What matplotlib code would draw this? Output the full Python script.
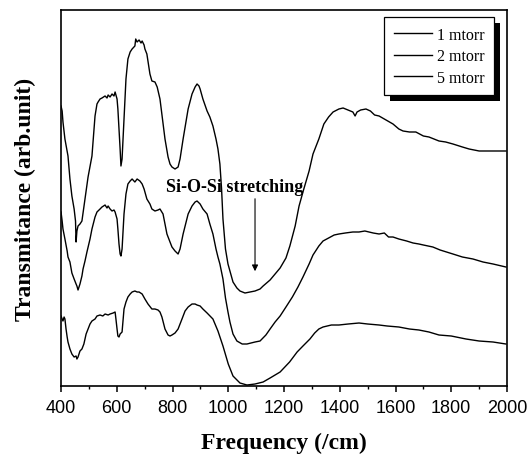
import matplotlib
matplotlib.use("Agg")
import matplotlib.pyplot as plt
from matplotlib.patches import Rectangle
from matplotlib.ticker import MultipleLocator

# wavenumber (/cm) and transmittance (arb. unit)
freq_1 = [400, 404, 407, 414, 422, 425, 432, 439, 447, 452, 454, 457, 461, 468, 475, 486, 497, 511,
          522, 529, 533, 540, 547, 558, 565, 569, 576, 583, 590, 594, 601, 604, 608, 612, 615, 619,
          626, 633, 640, 648, 655, 665, 668, 673, 680, 687, 691, 698, 701, 708, 719, 726, 737, 745,
          755, 766, 773, 784, 791, 798, 809, 820, 827, 838, 856, 870, 881, 888, 895, 899, 909, 924,
          934, 945, 956, 963, 970, 976, 981, 990, 999, 1006, 1017, 1031, 1042, 1060, 1078, 1096,
          1114, 1125, 1150, 1168, 1186, 1207, 1221, 1240, 1254, 1270, 1290, 1304, 1325, 1343, 1360,
          1376, 1397, 1412, 1430, 1447, 1455, 1462, 1475, 1494, 1510, 1525, 1541, 1560, 1591, 1612,
          1627, 1650, 1673, 1700, 1720, 1756, 1780, 1806, 1840, 1864, 1900, 1950, 1996]
trans_1 = [280, 275, 264, 247, 235, 230, 207, 190, 177, 165, 144, 155, 160, 162, 165, 187, 209, 230,
           270, 282, 284, 287, 288, 290, 288, 291, 289, 292, 290, 294, 287, 277, 257, 237, 220, 227,
           267, 307, 327, 334, 337, 340, 347, 344, 346, 343, 345, 341, 337, 332, 312, 305, 304, 299,
           287, 262, 247, 229, 222, 219, 217, 219, 227, 247, 277, 292, 299, 302, 300, 297, 287, 275,
           269, 260, 247, 237, 222, 197, 167, 137, 122, 115, 104, 98, 95, 93, 94, 95,
           97, 100, 106, 112, 118, 128, 140, 160, 180, 196, 215, 232, 247, 262, 269,
           274, 277, 278, 276, 274, 270, 274, 276, 277, 275, 271, 270, 267, 262, 257,
           255, 254, 254, 250, 249, 245, 244, 242, 239, 237, 235, 235, 235]

freq_2 = [400, 404, 407, 414, 422, 425, 432, 439, 443, 447, 454, 457, 461, 468, 475, 479, 486, 493,
          504, 511, 522, 529, 540, 547, 558, 565, 569, 576, 583, 590, 594, 601, 604, 608, 612, 615,
          619, 626, 633, 640, 648, 655, 665, 673, 683, 691, 698, 708, 719, 726, 737, 748, 755, 766,
          773, 780, 791, 798, 809, 820, 827, 838, 856, 870, 881, 888, 899, 909, 924, 934, 945, 956,
          963, 970, 981, 990, 999, 1006, 1017, 1031, 1050, 1067, 1096, 1114, 1135, 1150, 1168, 1186,
          1207, 1230, 1250, 1268, 1290, 1304, 1325, 1340, 1360, 1380, 1397, 1420, 1447, 1469, 1490,
          1520, 1541, 1560, 1575, 1591, 1612, 1640, 1663, 1684, 1700, 1734, 1760, 1806, 1840, 1878,
          1914, 1950, 1996]
trans_2 = [174, 165, 157, 147, 135, 129, 124, 113, 110, 107, 102, 100, 96, 102, 110, 117, 125, 134,
           147, 157, 169, 174, 177, 179, 181, 178, 180, 177, 175, 176, 174, 167, 157, 142, 132, 130,
           137, 172, 192, 202, 205, 207, 204, 207, 205, 202, 197, 187, 182, 177, 175, 176, 177, 172,
           162, 152, 144, 139, 135, 132, 137, 152, 172, 180, 184, 185, 182, 177, 172, 162, 152, 137,
           129, 122, 107, 88, 74, 64, 52, 45, 42, 42, 44, 45, 51, 57, 64, 70,
           79, 89, 99, 109, 122, 131, 140, 145, 148, 151, 152, 153, 154, 154, 155,
           153, 152, 153, 149, 149, 147, 145, 143, 142, 141, 139, 136, 132, 129, 127,
           124, 122, 119]

freq_5 = [400, 404, 407, 411, 414, 418, 422, 425, 432, 439, 447, 454, 457, 461, 468, 475, 482, 490,
          497, 504, 511, 522, 529, 540, 550, 558, 569, 576, 587, 594, 597, 601, 604, 608, 612, 619,
          626, 633, 640, 648, 655, 665, 673, 680, 691, 701, 712, 726, 737, 748, 755, 762, 773, 784,
          791, 798, 809, 820, 834, 845, 856, 870, 881, 888, 899, 909, 924, 945, 963, 981, 1000, 1017,
          1042, 1067, 1096, 1125, 1150, 1186, 1220, 1247, 1268, 1293, 1310, 1325, 1340, 1370, 1397,
          1430, 1469, 1500, 1541, 1570, 1612, 1650, 1684, 1720, 1756, 1800, 1853, 1900, 1950, 1996]
trans_5 = [70, 67, 65, 69, 67, 57, 49, 44, 37, 32, 29, 30, 27, 29, 35, 37, 42, 52,
           57, 62, 65, 67, 70, 71, 70, 72, 71, 72, 73, 74, 67, 57, 50, 49, 52, 54,
           77, 84, 89, 92, 94, 95, 94, 94, 92, 87, 82, 77, 77, 76, 74, 69, 57, 51,
           50, 51, 53, 57, 67, 75, 79, 82, 82, 81, 80, 77, 73, 67, 55, 40, 22, 10,
           3, 1, 2, 4, 8, 14, 24, 34, 40, 47, 53, 57, 59, 61, 61,
           62, 63, 62, 61, 60, 59, 57, 56, 54, 51, 50, 47, 45, 44, 42]

labels = ["1 mtorr", "2 mtorr", "5 mtorr"]

serif = "Liberation Serif"
sans = "Liberation Sans"

fig = plt.figure(figsize=(5.32, 4.56), dpi=100)
ax = fig.add_axes([0.1147, 0.1513, 0.8383, 0.8246])

for fr, tr, lab in zip([freq_1, freq_2, freq_5], [trans_1, trans_2, trans_5], labels):
    ax.plot(fr, tr, color="black", linewidth=1.0, label=lab)

ax.set_xlim(400, 2000)
ax.set_ylim(0, 376)
ax.set_yticks([])
ax.xaxis.set_major_locator(MultipleLocator(200))
ax.xaxis.set_minor_locator(MultipleLocator(100))
ax.tick_params(axis="x", which="major", direction="out", length=4, width=1.1, pad=5,
               labelsize=13)
ax.tick_params(axis="x", which="minor", direction="out", length=2.5, width=1)
for lbl in ax.get_xticklabels():
    lbl.set_fontfamily(sans)
for sp in ax.spines.values():
    sp.set_linewidth(1.2)

ax.set_xlabel("Frequency (/cm)", fontfamily=serif, fontweight="bold", fontsize=17, labelpad=12)
ax.set_ylabel("Transmitance (arb.unit)", fontfamily=serif, fontweight="bold", fontsize=17,
              labelpad=18)

# arrow marking the Si-O-Si stretching band
ax.annotate("", xy=(1096, 112), xytext=(1096, 190),
            arrowprops=dict(arrowstyle="-|>", color="black", lw=0.8, mutation_scale=9))
ax.text(777, 195, "Si-O-Si stretching", fontfamily=serif, fontweight="bold", fontsize=13,
        ha="left", va="baseline")

leg = ax.legend(loc="upper right", bbox_to_anchor=(0.971, 0.981), borderaxespad=0,
                fancybox=False, edgecolor="black", framealpha=1, prop={"family": serif, "size": 11.5},
                handlelength=2.4, handletextpad=0.3, labelspacing=0.35, borderpad=0.6)
leg.get_frame().set_linewidth(0.9)
leg.set_zorder(6)

# solid black drop shadow under the legend box
fig.canvas.draw()
bb = leg.get_window_extent()
shadow = Rectangle((bb.x0 + 6, bb.y0 - 6), bb.width, bb.height, transform=None,
                   facecolor="black", edgecolor="none", zorder=5)
ax.add_patch(shadow)

fig.savefig("out.png", dpi=100)
